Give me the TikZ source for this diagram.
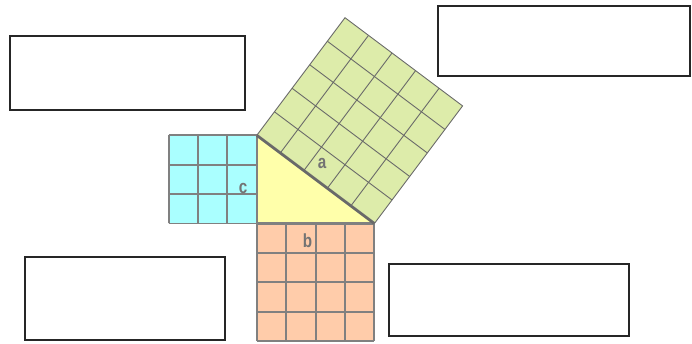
\documentclass[tikz,border=0pt]{standalone}
\usepackage{fontspec}
\setsansfont{Liberation Sans}
\usetikzlibrary{calc}
\definecolor{sqcyan}{RGB}{170,255,255}
\definecolor{sqsalmon}{RGB}{255,204,170}
\definecolor{sqgreen}{RGB}{221,236,170}
\definecolor{triyellow}{RGB}{255,255,170}
\definecolor{edgegray}{RGB}{128,128,128}
\definecolor{hypgray}{RGB}{105,105,105}

\begin{document}
\begin{tikzpicture}[x=29.4pt, y=29.4pt,
    gridline/.style={line width=1.9pt, edgegray},
    hypgrid/.style={line width=0.9pt, hypgray},
    blank/.style={draw=black!85, line width=2pt, fill=white, anchor=north west,
        inner sep=0pt, outer sep=0pt},
    side/.style={font=\sffamily\bfseries\fontsize{19}{19}\selectfont, text=black!55, inner sep=0pt}]
    \useasboundingbox (-8.735,-4.065) rectangle (14.803,7.602);

    % Corners of the right triangle and of the square on its hypotenuse
    \coordinate (R) at (0,0);
    \coordinate (T) at (0,3);
    \coordinate (S) at (4,0);
    \coordinate (P) at (3,7);
    \coordinate (Q) at (7,4);

    % Square on side c
    \fill[sqcyan] (-3,0) rectangle (0,3);
    \draw[gridline, step=1] (-3,0) grid (0,3);

    % Square on side b
    \fill[sqsalmon] (0,-4) rectangle (4,0);
    \draw[gridline, step=1] (0,-4) grid (4,0);

    % Square on side a
    \fill[sqgreen] (T) -- (S) -- (Q) -- (P) -- cycle;
    \foreach \i in {1,...,4} {
        \draw[hypgrid] ($(T)!\i/5!(S)$) -- ($(P)!\i/5!(Q)$);
        \draw[hypgrid] ($(T)!\i/5!(P)$) -- ($(S)!\i/5!(Q)$);
    }
    \draw[hypgrid] (T) -- (P) -- (Q) -- (S);

    % The triangle itself
    \fill[triyellow] (R) -- (T) -- (S) -- cycle;
    \draw[line width=2.6pt, edgegray, line join=miter] (S) -- (R) -- (T);
    \draw[line width=2.8pt, hypgray] (T) -- (S);

    % Side labels
    \node[side] (la) at (2.218,2.058) {\scalebox{0.8}[1]{a}};
    \node[side] (lb) at (1.724,-0.595) {\scalebox{0.8}[1]{b}};
    \node[side] (lc) at (-0.469,1.207) {\scalebox{0.8}[1]{c}};

    % Empty answer boxes
    \node[blank, minimum width=235pt, minimum height=74pt] (boxtl) at (-8.378,6.361) {};
    \node[blank, minimum width=252pt, minimum height=70pt] (boxtr) at (6.153,7.408) {};
    \node[blank, minimum width=200pt, minimum height=83pt] (boxbl) at (-7.884,-1.139) {};
    \node[blank, minimum width=240pt, minimum height=72pt] (boxbr) at (4.480,-1.361) {};
\end{tikzpicture}
\end{document}
